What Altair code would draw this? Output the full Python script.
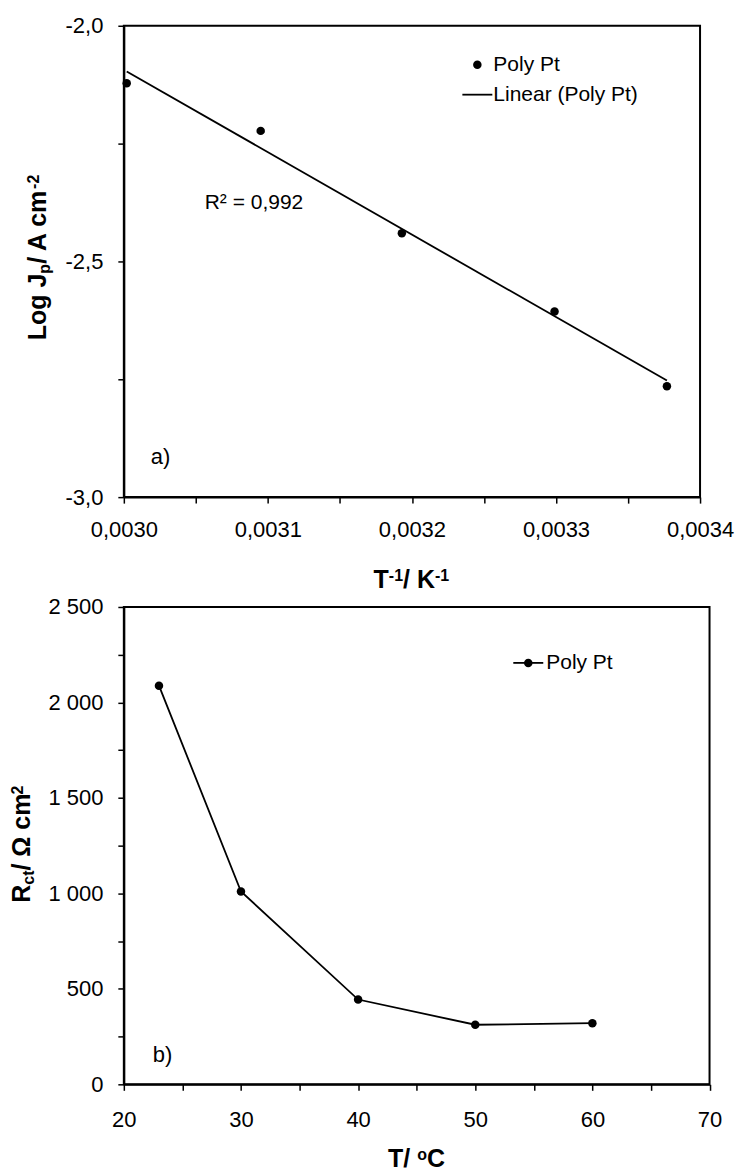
import altair as alt
import pandas as pd

FONT = "Liberation Sans"

# ---- data: panel a (Arrhenius-type plot) ----
inv_T = [0.003002, 0.003095, 0.003193, 0.003299, 0.003377]
log_jp = [-2.122, -2.223, -2.440, -2.606, -2.765]

# ---- data: panel b (charge-transfer resistance vs temperature) ----
temp_C = [23, 30, 40, 50, 60]
rct = [2088, 1010, 444, 312, 320]

series_name = "Poly Pt"
trend_name = "Linear (Poly Pt)"
r2_text = "R² = 0,992"
panel_a = "a)"
panel_b = "b)"

xa_ticks = [0.0030, 0.00305, 0.0031, 0.00315, 0.0032, 0.00325, 0.0033, 0.00335, 0.0034]
ya_ticks = [-3.0, -2.75, -2.5, -2.25, -2.0]
xb_ticks = [20, 25, 30, 35, 40, 45, 50, 55, 60, 65, 70]
yb_ticks = [0, 250, 500, 750, 1000, 1250, 1500, 1750, 2000, 2250, 2500]

PT = 72
LW = 1.8


def label(text, x, y, size, bold=False, angle=0, baseline="middle", align="left"):
    kw = dict(align=align, baseline=baseline, font=FONT, fontSize=size,
              fontWeight="bold" if bold else "normal", color="black")
    if angle:
        kw["angle"] = angle
    return alt.Chart(pd.DataFrame({"t": [text]})).mark_text(**kw).encode(
        text="t:N", x=alt.value(x), y=alt.value(y))


# ================= panel a =================
dfa = pd.DataFrame({"x": inv_T, "y": log_jp})
xa = alt.X("x:Q", scale=alt.Scale(domain=[0.0030, 0.0034], nice=False, zero=False),
           axis=alt.Axis(values=xa_ticks, title=None, labelPadding=16.5,
                         labelExpr="abs(datum.value*10000 - round(datum.value*10000)) < 0.01 ? replace(format(datum.value, '.4f'), '.', ',') : ''"))
ya = alt.Y("y:Q", scale=alt.Scale(domain=[-3, -2], nice=False, zero=False),
           axis=alt.Axis(values=ya_ticks, title=None, labelPadding=15,
                         labelExpr="round(datum.value*2) == datum.value*2 ? (datum.value < 0 ? '-' : '') + replace(format(abs(datum.value), '.1f'), '.', ',') : ''"))

pts_a = alt.Chart(dfa).mark_circle(size=PT, color="black", opacity=1).encode(x=xa, y=ya)
fit_a = alt.Chart(dfa).transform_regression("x", "y").mark_line(
    color="black", strokeWidth=LW).encode(x=xa, y=ya)

leg_pt_a = alt.Chart(pd.DataFrame({"t": [series_name]})).mark_circle(
    size=PT, color="black", opacity=1).encode(x=alt.value(354), y=alt.value(39))
leg_rule_a = alt.Chart(pd.DataFrame({"t": [trend_name]})).mark_rule(
    color="black", strokeWidth=LW).encode(x=alt.value(339), x2=alt.value(369), y=alt.value(69))

top = alt.layer(
    fit_a, pts_a,
    leg_pt_a, label(series_name, 370, 39, 21),
    leg_rule_a, label(trend_name, 370, 69, 21),
    label(r2_text, 81, 177.5, 21),
    label(panel_a, 27, 432, 22),
    # y title: Log Jp/ A cm-2
    label("Log J", -78, 314.9, 25, True, 270, "alphabetic"),
    label("p", -74, 248.2, 16, True, 270, "alphabetic"),
    label("/ A cm", -78, 238.4, 25, True, 270, "alphabetic"),
    label("-2", -85, 163.4, 16, True, 270, "alphabetic"),
    # x title: T-1/ K-1
    label("T", 250.1, 563, 25, True, 0, "alphabetic"),
    label("-1", 265.4, 556, 16, True, 0, "alphabetic"),
    label("/ K", 279.6, 563, 25, True, 0, "alphabetic"),
    label("-1", 311.6, 556, 16, True, 0, "alphabetic"),
).properties(width=577, height=472)

# ================= panel b =================
dfb = pd.DataFrame({"x": temp_C, "y": rct})
xb = alt.X("x:Q", scale=alt.Scale(domain=[20, 70], nice=False, zero=False),
           axis=alt.Axis(values=xb_ticks, title=None, labelPadding=19,
                         labelExpr="datum.value % 10 == 0 ? format(datum.value, 'd') : ''"))
yb = alt.Y("y:Q", scale=alt.Scale(domain=[0, 2500], nice=False),
           axis=alt.Axis(values=yb_ticks, title=None, labelPadding=15,
                         labelExpr="datum.value % 500 == 0 ? replace(format(datum.value, ','), ',', ' ') : ''"))

line_b = alt.Chart(dfb).mark_line(color="black", strokeWidth=LW).encode(x=xb, y=yb)
pts_b = alt.Chart(dfb).mark_circle(size=PT, color="black", opacity=1).encode(x=xb, y=yb)

leg_rule_b = alt.Chart(pd.DataFrame({"t": [series_name]})).mark_rule(
    color="black", strokeWidth=LW).encode(x=alt.value(390), x2=alt.value(420), y=alt.value(56))
leg_pt_b = alt.Chart(pd.DataFrame({"t": [series_name]})).mark_circle(
    size=PT, color="black", opacity=1).encode(x=alt.value(405), y=alt.value(56))

bottom = alt.layer(
    line_b, pts_b,
    leg_rule_b, leg_pt_b, label(series_name, 423, 56, 21),
    label(panel_b, 29, 449, 22),
    # y title: Rct/ Ω cm2
    label("R", -93.5, 296.2, 25, True, 270, "alphabetic"),
    label("ct", -89.5, 278.1, 16, True, 270, "alphabetic"),
    label("/ Ω cm", -93.5, 263.9, 25, True, 270, "alphabetic"),
    label("2", -100.5, 187.7, 16, True, 270, "alphabetic"),
    # x title: T/ oC
    label("T/", 264.5, 561, 25, True, 0, "alphabetic"),
    label("o", 293.7, 554, 16, True, 0, "alphabetic"),
    label("C", 303.5, 561, 25, True, 0, "alphabetic"),
).properties(width=586.5, height=478)

chart = alt.vconcat(top, bottom, spacing=110, bounds="flush").properties(
    padding={"left": 9, "top": 13, "right": 0, "bottom": 0}
).configure_view(
    stroke="black", strokeWidth=2
).configure_axis(
    domainColor="black", domainWidth=2, tickColor="black", tickWidth=1.5, tickSize=6,
    labelFont=FONT, labelFontSize=22, labelColor="black", labelFlush=False,
    labelOverlap=False, grid=False
)

chart.save("out.html", embed_options={"renderer": "svg", "actions": False})
